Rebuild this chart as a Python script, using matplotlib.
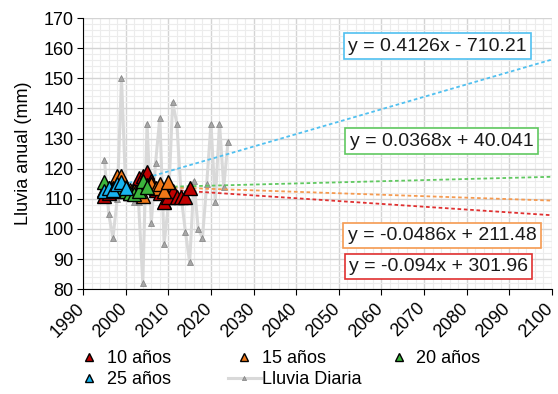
"""
Lluvia anual por periodo de retorno, con tendencias lineales proyectadas a 2100.
"""
import numpy as np
import matplotlib
matplotlib.use("Agg")
import matplotlib.pyplot as plt
from matplotlib.ticker import MultipleLocator
from matplotlib.transforms import ScaledTranslation

plt.rcParams['font.family'] = ['Liberation Sans', 'DejaVu Sans']

# Lluvia diaria (serie gris)
anios_lluvia = [1995, 1996, 1997, 1998, 1999, 2000, 2001, 2002, 2003, 2004,
                2005, 2006, 2007, 2008, 2009, 2010, 2011, 2012, 2013, 2014,
                2015, 2016, 2017, 2018, 2019, 2020, 2021, 2022, 2023, 2024]
lluvia = [123, 105, 97, 110, 150, 113, 112, 109, 109, 82,
          135, 102, 122, 137, 95, 108, 142, 135, 111, 99,
          89, 116, 100, 97, 115, 135, 109, 135, 114, 129]

# series por periodo de retorno
anios_10 = list(range(1995, 2016))
valores_10 = [111.0, 112.0, 114.0, 113.5, 114.0, 113.0, 112.0, 113.0, 117.0, 117.5,
              119.0, 116.0, 113.0, 112.0, 109.0, 110.5, 112.5, 110.5, 110.5, 110.5, 113.5]
anios_15 = list(range(1995, 2011))
valores_15 = [113.0, 113.5, 114.0, 117.5, 117.5, 114.0, 113.0, 112.5, 113.0, 111.0,
              114.5, 115.0, 113.5, 115.0, 112.5, 115.5]
anios_20 = list(range(1995, 2006))
valores_20 = [115.5, 112.5, 113.5, 114.0, 112.5, 112.5, 112.0, 111.5, 112.5, 116.0, 114.0]
anios_25 = list(range(1995, 2001))
valores_25 = [112.6, 113.5, 113.0, 115.0, 115.5, 113.6]

pendientes = [-0.094, -0.0486, 0.0368, 0.4126]
interceptos = [301.96, 211.48, 40.041, -710.21]
etiquetas_tend = ["y = -0.094x + 301.96", "y = -0.0486x + 211.48",
                  "y = 0.0368x + 40.041", "y = 0.4126x - 710.21"]

colores = ['#c00000', '#f07818', '#3cb43c', '#18b4f0']
colores_tend = ['#e03030', '#f59a50', '#60c860', '#50c0f0']
nombres = ['10 años', '15 años', '20 años', '25 años']

fig = plt.figure(figsize=(5.58, 3.94), dpi=100)
ax = fig.add_axes([0.149, 0.266, 0.840, 0.688])

# grilla
ax.xaxis.set_major_locator(MultipleLocator(10))
ax.xaxis.set_minor_locator(MultipleLocator(2))
ax.yaxis.set_major_locator(MultipleLocator(10))
ax.yaxis.set_minor_locator(MultipleLocator(2))
ax.grid(which='major', color='#d4d4d4', linewidth=1.0, zorder=0)
ax.grid(which='minor', color='#ececec', linewidth=0.8, zorder=0)
ax.set_axisbelow(True)

# lluvia diaria
h_lluvia, = ax.plot(anios_lluvia, lluvia, color='#d9d9d9', linewidth=2.2, marker='^',
                    markersize=5, markerfacecolor='#a6a6a6', markeredgecolor='#808080',
                    markeredgewidth=0.5, zorder=2, label='Lluvia Diaria')

# tendencias
x_tend = np.array([1995, 2100])
for m, b, c in zip(pendientes, interceptos, colores_tend):
    ax.plot(x_tend, m * x_tend + b, linestyle=(0, (2, 1.5)), color=c, linewidth=1.3,
            zorder=3, clip_on=False)

# series
series_x = [anios_10, anios_15, anios_20, anios_25]
series_y = [valores_10, valores_15, valores_20, valores_25]
handles = []
for xs, ys, c, n in zip(series_x, series_y, colores, nombres):
    h, = ax.plot(xs, ys, linestyle='None', marker='^', markersize=10, markerfacecolor=c,
                 markeredgecolor='black', markeredgewidth=1.0, zorder=4, label=n)
    handles.append(h)

# etiquetas de ecuaciones
pos_etiquetas = [(2073.4, 87.5), (2074.2, 97.8), (2074.1, 129.2), (2073.1, 160.7)]
for (px, py), txt, c in zip(pos_etiquetas, etiquetas_tend, colores_tend):
    ax.text(px, py, txt, ha='center', va='center', fontsize=14, color='#1a1a1a', zorder=6,
            bbox=dict(boxstyle='square,pad=0.22', facecolor='white', edgecolor=c, linewidth=1.2))

ax.set_xlim(1990, 2100)
ax.set_ylim(80, 170)
ax.set_ylabel("Lluvia anual (mm)", fontsize=13, labelpad=8)

for s in ['top', 'right']:
    ax.spines[s].set_visible(False)
ax.spines['left'].set_color('black')
ax.spines['bottom'].set_color('black')
ax.tick_params(which='major', direction='out', length=4, labelsize=13, pad=3)
ax.tick_params(which='minor', length=0)
desplaza = ScaledTranslation(-1 / 72, -5 / 72, fig.dpi_scale_trans)
for lbl in ax.get_xticklabels():
    lbl.set_rotation(45)
    lbl.set_ha('right')
    lbl.set_va('center')
    lbl.set_rotation_mode('anchor')
    lbl.set_transform(lbl.get_transform() + desplaza)

# leyenda: tres columnas de igual ancho
columnas = [([handles[0], handles[3]], ['10 años', '25 años'], 0.131),
            ([handles[1], h_lluvia], ['15 años', 'Lluvia Diaria'], 0.409),
            ([handles[2]], ['20 años'], 0.686)]
for hs, ls, x0 in columnas:
    fig.legend(hs, ls, loc='upper left', bbox_to_anchor=(x0, 0.112), frameon=False,
               fontsize=13, markerscale=0.6, handlelength=1.8, handletextpad=0.05,
               labelspacing=0.22, borderpad=0, borderaxespad=0)

fig.savefig("out.png", dpi=100)
